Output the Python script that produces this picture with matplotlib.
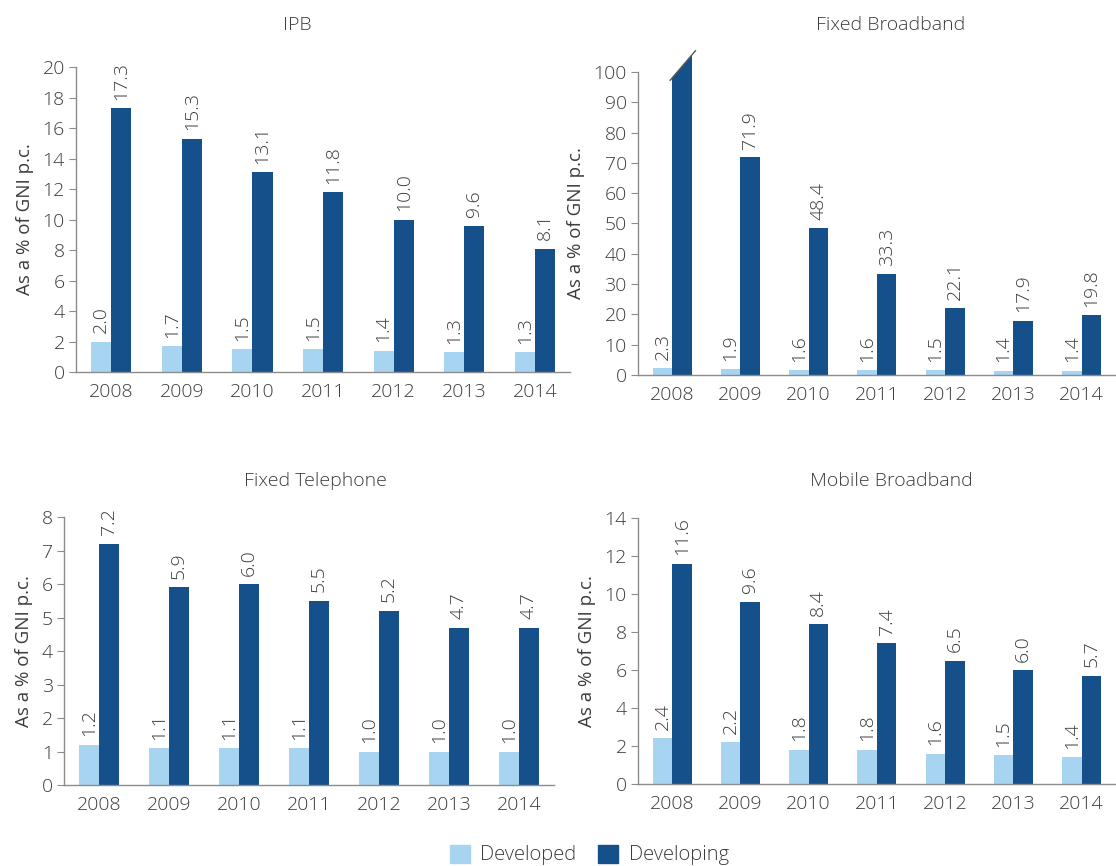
import numpy as np
import matplotlib
matplotlib.use("Agg")
import matplotlib.pyplot as plt
from matplotlib.patches import Polygon, Patch

plt.rcParams['font.family'] = ['Open Sans', 'DejaVu Sans']
plt.rcParams['font.weight'] = 'light'

years = ['2008', '2009', '2010', '2011', '2012', '2013', '2014']

ipb_developed = [2.0, 1.7, 1.5, 1.5, 1.4, 1.3, 1.3]
ipb_developing = [17.3, 15.3, 13.1, 11.8, 10.0, 9.6, 8.1]

fb_developed = [2.3, 1.9, 1.6, 1.6, 1.5, 1.4, 1.4]
fb_developing = [150.0, 71.9, 48.4, 33.3, 22.1, 17.9, 19.8]  # 2008 off the scale (broken bar)

ft_developed = [1.2, 1.1, 1.1, 1.1, 1.0, 1.0, 1.0]
ft_developing = [7.2, 5.9, 6.0, 5.5, 5.2, 4.7, 4.7]

mb_developed = [2.4, 2.2, 1.8, 1.8, 1.6, 1.5, 1.4]
mb_developing = [11.6, 9.6, 8.4, 7.4, 6.5, 6.0, 5.7]

C_DEV = '#a7d5f1'
C_DEVING = '#15508a'
TXT = '#3c3c3c'
AX = '#8c8c8c'

fig = plt.figure(figsize=(11.16, 8.66), dpi=100)


def panel(rect, dev, deving, ymax, step, cap=None):
    ax = fig.add_axes(rect)
    x = np.arange(len(years))
    w = 0.285
    h_deving = [min(v, cap) if cap else v for v in deving]
    ax.bar(x - w / 2, dev, w, color=C_DEV)
    bars = ax.bar(x + w / 2, h_deving, w, color=C_DEVING)
    for xi, v in zip(x, dev):
        ax.annotate(f'{v:.1f}', (xi - w / 2, v), xytext=(0, 6), textcoords='offset points',
                    rotation=90, ha='center', va='bottom', fontsize=14, color=TXT)
    for b, v in zip(bars, deving):
        if cap and v > cap:
            # broken bar: slanted top above the axis limit
            x0, x1 = b.get_x(), b.get_x() + b.get_width()
            top = cap + 0.075 * ymax
            ax.add_patch(Polygon([(x0, cap), (x1, cap), (x1, top)], closed=True,
                                 color=C_DEVING, clip_on=False, lw=0))
            dx = 0.1 * (x1 - x0)
            slope = (top - cap) / (x1 - x0)
            ax.plot([x0 - dx, x1 + 2 * dx], [cap - slope * dx, top + slope * 2 * dx],
                    color='#555555', lw=1, clip_on=False)
            continue
        ax.annotate(f'{v:.1f}', (b.get_x() + b.get_width() / 2, v), xytext=(0, 6),
                    textcoords='offset points', rotation=90, ha='center', va='bottom',
                    fontsize=14, color=TXT)
    ax.set_xlim(-0.5, len(years) - 0.5)
    ax.set_ylim(0, ymax)
    ax.set_yticks(np.arange(0, ymax + step / 2, step))
    ax.set_xticks(x)
    ax.set_xticklabels(years)
    ax.tick_params(axis='x', length=0, pad=8, labelsize=14, labelcolor=TXT)
    ax.tick_params(axis='y', length=5, color=AX, labelsize=14, labelcolor=TXT, pad=3)
    for s in ['top', 'right']:
        ax.spines[s].set_visible(False)
    for s in ['left', 'bottom']:
        ax.spines[s].set_color(AX)
        ax.spines[s].set_linewidth(1)
    ax.set_ylabel('As a % of GNI p.c.', fontsize=13.5, color=TXT, labelpad=6)
    return ax


panel([0.068, 0.5704, 0.443, 0.3522], ipb_developed, ipb_developing, 20, 2)
panel([0.5717, 0.567, 0.428, 0.3499], fb_developed, fb_developing, 100, 10, cap=98)
panel([0.0573, 0.0935, 0.4391, 0.3095], ft_developed, ft_developing, 8, 1)
panel([0.5717, 0.0947, 0.428, 0.3071], mb_developed, mb_developing, 14, 2)

fig.text(297 / 1116, 1 - 25 / 866, 'IPB', ha='center', va='center', fontsize=14, color=TXT)
fig.text(891 / 1116, 1 - 25 / 866, 'Fixed Broadband', ha='center', va='center', fontsize=14, color=TXT)
fig.text(315 / 1116, 1 - 481 / 866, 'Fixed Telephone', ha='center', va='center', fontsize=14, color=TXT)
fig.text(891 / 1116, 1 - 481 / 866, 'Mobile Broadband', ha='center', va='center', fontsize=14, color=TXT)

handles = [Patch(color=C_DEV, label='Developed'), Patch(color=C_DEVING, label='Developing')]
fig.legend(handles=handles, loc='center', bbox_to_anchor=(0.528, 1 - 855 / 866), ncol=2,
           frameon=False, fontsize=14.5, labelcolor=TXT, handlelength=1.0, handleheight=1.0,
           handletextpad=0.5, columnspacing=1.1)

fig.savefig('out.png', dpi=100)
